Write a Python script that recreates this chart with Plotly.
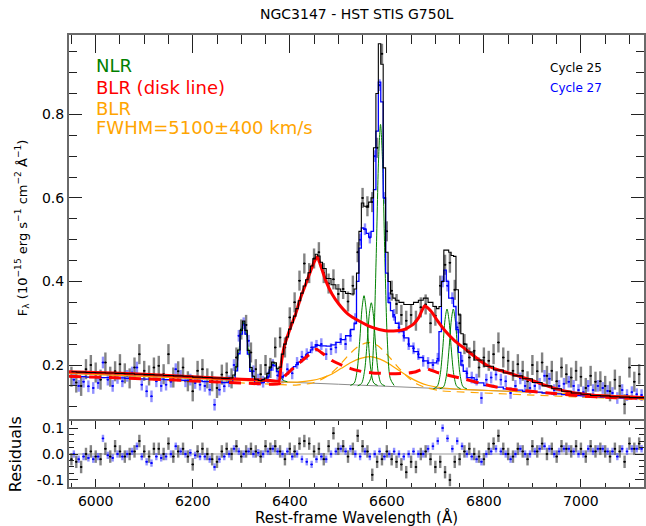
import plotly.graph_objects as go

# ---------------- data ----------------
# Cycle 25 binned spectrum (black) and Cycle 27 (blue), fluxes in 1e-15 units
lam25 = list(range(5950, 7121, 10))
flux25 = [0.172, 0.158, 0.150, 0.190, 0.200, 0.182, 0.165, 0.206, 0.172, 0.185,
          0.202, 0.180, 0.168, 0.194, 0.226, 0.186, 0.175, 0.194, 0.198, 0.178,
          0.226, 0.170, 0.185, 0.194, 0.161, 0.137, 0.186, 0.190, 0.168, 0.161,
          0.145, 0.177, 0.182, 0.168, 0.218, 0.285, 0.296, 0.230, 0.190, 0.178,
          0.200, 0.193, 0.242, 0.266, 0.242, 0.314, 0.350, 0.402, 0.443, 0.420,
          0.455, 0.470, 0.420, 0.395, 0.405, 0.370, 0.382, 0.352, 0.390, 0.470,
          0.600, 0.580, 0.590, 0.720, 0.945, 0.520, 0.378, 0.346, 0.320, 0.306,
          0.320, 0.306, 0.338, 0.345, 0.300, 0.318, 0.390, 0.440, 0.445, 0.380,
          0.300, 0.250, 0.218, 0.234, 0.194, 0.218, 0.210, 0.226, 0.254, 0.218,
          0.210, 0.186, 0.202, 0.186, 0.161, 0.200, 0.185, 0.206, 0.174, 0.186,
          0.161, 0.194, 0.178, 0.170, 0.186, 0.172, 0.145, 0.174, 0.160, 0.161,
          0.150, 0.137, 0.165, 0.150, 0.106, 0.194, 0.160, 0.178]
res25 = [-0.02, -0.03, -0.05, 0.00, 0.01, -0.01, -0.02, 0.02, -0.01, 0.03,
         0.01, -0.01, 0.00, 0.01, 0.05, 0.01, -0.01, 0.02, 0.02, 0.00,
         0.04, -0.01, 0.01, 0.02, -0.01, -0.04, 0.01, 0.02, 0.00, -0.02,
         -0.03, 0.01, 0.02, 0.00, 0.03, -0.01, 0.01, 0.02, 0.01, -0.01,
         0.03, 0.02, 0.03, 0.01, -0.02, 0.02, 0.01, 0.04, 0.05, 0.04,
         0.01, 0.02, -0.02, 0.03, 0.08, 0.02, 0.03, -0.01, 0.02, 0.07,
         0.03, 0.01, -0.08, -0.03, -0.02, 0.01, -0.02, -0.03, -0.04, -0.07,
         -0.03, -0.05, 0.00, 0.01, -0.02, -0.05, -0.03, -0.07, -0.10, -0.03,
         -0.02, 0.01, 0.02, 0.00, -0.01, -0.02, 0.02, 0.04, 0.07, 0.02,
         0.00, -0.01, 0.02, 0.01, -0.02, 0.03, 0.01, 0.04, 0.00, 0.02,
         -0.01, 0.03, 0.02, 0.01, 0.03, 0.02, -0.01, 0.03, 0.01, 0.02,
         0.01, -0.01, 0.02, 0.01, -0.03, 0.04, 0.02, 0.04]

lam27 = list(range(5955, 7126, 10))
flux27 = [0.165, 0.150, 0.160, 0.149, 0.145, 0.157, 0.206, 0.165, 0.150, 0.169,
          0.161, 0.174, 0.182, 0.194, 0.153, 0.137, 0.125, 0.161, 0.150, 0.153,
          0.160, 0.190, 0.174, 0.161, 0.165, 0.157, 0.153, 0.150, 0.141, 0.105,
          0.141, 0.149, 0.161, 0.200, 0.270, 0.300, 0.258, 0.185, 0.165, 0.160,
          0.170, 0.200, 0.175, 0.170, 0.190, 0.180, 0.205, 0.220, 0.226, 0.242,
          0.246, 0.250, 0.226, 0.238, 0.242, 0.262, 0.250, 0.270, 0.310, 0.500,
          0.525, 0.505, 0.700, 0.870, 0.600, 0.360, 0.320, 0.290, 0.270, 0.250,
          0.240, 0.226, 0.210, 0.205, 0.200, 0.215, 0.400, 0.390, 0.360, 0.290,
          0.210, 0.180, 0.170, 0.165, 0.121, 0.165, 0.170, 0.177, 0.165, 0.161,
          0.133, 0.150, 0.168, 0.150, 0.145, 0.150, 0.155, 0.174, 0.167, 0.140,
          0.150, 0.155, 0.160, 0.150, 0.140, 0.135, 0.150, 0.140, 0.150, 0.145,
          0.138, 0.133, 0.121, 0.140, 0.128, 0.135, 0.130, 0.128]
res27 = [0.000, -0.020, -0.010, -0.015, -0.020, -0.010, 0.060, -0.005, -0.015, 0.000,
         -0.010, 0.000, 0.010, 0.030, -0.010, -0.030, -0.035, -0.010, -0.015, -0.010,
         0.000, 0.030, 0.010, 0.000, 0.005, -0.005, -0.010, -0.010, -0.020, -0.050,
         -0.020, -0.010, 0.000, 0.020, 0.010, 0.000, 0.010, 0.000, 0.005, 0.000,
         0.010, 0.020, 0.010, 0.000, 0.010, -0.010, 0.000, -0.020, -0.030, -0.040,
         -0.020, -0.010, -0.020, 0.000, 0.010, 0.020, 0.010, 0.020, 0.000, -0.010,
         0.010, -0.010, 0.000, 0.010, -0.010, 0.000, 0.010, 0.000, -0.010, 0.000,
         0.010, 0.000, 0.000, 0.020, 0.030, 0.050, 0.100, 0.060, 0.020, 0.050,
         0.030, 0.000, -0.010, -0.020, -0.030, 0.000, 0.010, 0.020, 0.010, 0.000,
         -0.020, 0.000, 0.020, 0.000, 0.000, 0.010, 0.020, 0.030, 0.020, 0.000,
         0.010, 0.020, 0.020, 0.010, 0.000, 0.000, 0.020, 0.010, 0.020, 0.020,
         0.010, 0.010, -0.010, 0.020, 0.010, 0.020, 0.020, 0.020]

err25 = 0.024      # typical 1-sigma flux error, Cycle 25
err27 = 0.014      # typical 1-sigma flux error, Cycle 27
half_bin = 2.5     # half bin width (Å)

# total models (step lines)
model_wave = ([5950, 5970, 5990, 6010, 6030, 6050, 6070, 6090, 6110, 6130, 6150, 6170,
               6190, 6210, 6230, 6250, 6270]
              + [6280, 6285, 6290, 6295, 6300, 6305, 6310, 6315, 6320, 6325, 6330]
              + [6340, 6345, 6350, 6355, 6360, 6365, 6370, 6375, 6380, 6385, 6390, 6395,
                 6400, 6405, 6410, 6415, 6420, 6425, 6430, 6435, 6440, 6445, 6450, 6455,
                 6460, 6465, 6470]
              + [6480, 6490, 6500, 6510, 6520, 6530]
              + [6535, 6540, 6545, 6550, 6555, 6560, 6565, 6570, 6575, 6580, 6585, 6590,
                 6595, 6600, 6605, 6610, 6615, 6620]
              + [6630, 6640, 6650, 6660, 6670, 6680, 6690, 6700]
              + [6705, 6710, 6715, 6720, 6725, 6730, 6735, 6740, 6745, 6750, 6755, 6760]
              + [6770, 6790, 6810, 6830, 6850, 6870, 6890, 6910, 6930, 6950, 6970, 6990,
                 7010, 7030, 7050, 7070, 7090, 7110, 7130])
model25 = ([0.184, 0.183, 0.182, 0.1815, 0.181, 0.180, 0.179, 0.178, 0.177, 0.176, 0.175,
            0.174, 0.173, 0.171, 0.170, 0.169, 0.168]
           + [0.169, 0.176, 0.196, 0.236, 0.283, 0.305, 0.283, 0.235, 0.194, 0.173, 0.166]
           + [0.163, 0.165, 0.169, 0.180, 0.195, 0.207, 0.205, 0.191, 0.195, 0.226, 0.250,
              0.267, 0.286, 0.301, 0.317, 0.335, 0.354, 0.372, 0.389, 0.404, 0.421, 0.437,
              0.454, 0.465, 0.461, 0.446, 0.431]
           + [0.407, 0.392, 0.382, 0.376, 0.371, 0.370]
           + [0.382, 0.420, 0.520, 0.588, 0.580, 0.578, 0.590, 0.600, 0.720, 0.850, 0.969,
              0.920, 0.672, 0.470, 0.400, 0.370, 0.360, 0.355]
           + [0.350, 0.345, 0.345, 0.350, 0.355, 0.360, 0.350, 0.340]
           + [0.335, 0.340, 0.400, 0.475, 0.475, 0.470, 0.462, 0.460, 0.380, 0.320, 0.275, 0.250]
           + [0.231, 0.212, 0.197, 0.188, 0.181, 0.174, 0.167, 0.158, 0.150, 0.143, 0.137,
              0.133, 0.130, 0.127, 0.126, 0.124, 0.123, 0.122, 0.122])
model27 = ([0.173, 0.172, 0.171, 0.170, 0.170, 0.169, 0.168, 0.167, 0.166, 0.166, 0.165,
            0.164, 0.163, 0.162, 0.160, 0.159, 0.158]
           + [0.159, 0.166, 0.186, 0.227, 0.274, 0.296, 0.274, 0.226, 0.185, 0.165, 0.158]
           + [0.157, 0.158, 0.162, 0.173, 0.188, 0.200, 0.198, 0.184, 0.173, 0.173, 0.175,
              0.179, 0.186, 0.190, 0.196, 0.201, 0.207, 0.213, 0.218, 0.224, 0.230, 0.236,
              0.243, 0.249, 0.247, 0.246, 0.246]
           + [0.245, 0.248, 0.254, 0.261, 0.270, 0.285]
           + [0.300, 0.400, 0.480, 0.528, 0.525, 0.515, 0.506, 0.520, 0.620, 0.760, 0.877,
              0.830, 0.600, 0.420, 0.350, 0.330, 0.315, 0.300]
           + [0.280, 0.265, 0.245, 0.232, 0.218, 0.210, 0.205, 0.205]
           + [0.210, 0.280, 0.400, 0.427, 0.400, 0.360, 0.360, 0.340, 0.285, 0.230, 0.200, 0.185]
           + [0.170, 0.157, 0.151, 0.147, 0.143, 0.140, 0.137, 0.135, 0.133, 0.131, 0.129,
              0.127, 0.126, 0.124, 0.123, 0.122, 0.121, 0.120, 0.120])

# continuum (grey)
cont_wave = [5945, 6100, 6300, 6500, 6700, 6900, 7130]
cont_flux = [0.180, 0.173, 0.163, 0.154, 0.144, 0.135, 0.124]

# BLR disk line + continuum: Cycle 25 (solid red), Cycle 27 (dashed red)
disk25_wave = [5945, 6000, 6100, 6200, 6300, 6360, 6378, 6382, 6388, 6400, 6412, 6422,
               6433, 6443, 6450, 6457, 6463, 6474, 6487, 6501, 6520, 6542, 6570, 6597,
               6620, 6638, 6655, 6666, 6673, 6678, 6685, 6693, 6705, 6720, 6740, 6762,
               6790, 6810, 6830, 6851, 6892, 6933, 6974, 7022, 7077, 7130]
disk25_flux = [0.184, 0.182, 0.178, 0.172, 0.166, 0.163, 0.162, 0.200, 0.242, 0.285, 0.322,
               0.360, 0.394, 0.425, 0.446, 0.460, 0.440, 0.402, 0.370, 0.346, 0.322, 0.306,
               0.290, 0.282, 0.282, 0.286, 0.298, 0.314, 0.332, 0.342, 0.336, 0.326, 0.305,
               0.282, 0.258, 0.238, 0.212, 0.197, 0.188, 0.181, 0.166, 0.149, 0.136, 0.128,
               0.124, 0.122]
disk27_wave = [5945, 6100, 6200, 6300, 6378, 6385, 6400, 6420, 6440, 6455, 6465, 6488,
               6510, 6529, 6550, 6570, 6611, 6640, 6660, 6679, 6690, 6707, 6735, 6762,
               6790, 6817, 6870, 6933, 7000, 7060, 7130]
disk27_flux = [0.173, 0.167, 0.162, 0.157, 0.155, 0.168, 0.185, 0.205, 0.225, 0.238, 0.230,
               0.210, 0.198, 0.190, 0.184, 0.181, 0.179, 0.180, 0.184, 0.192, 0.188, 0.181,
               0.173, 0.166, 0.157, 0.149, 0.140, 0.133, 0.126, 0.122, 0.120]

# broad Gaussian BLR component: solid (Cycle 25) and dashed (Cycle 27) orange
blr25_wave = [5945, 6100, 6300, 6366, 6416, 6446, 6466, 6486, 6506, 6526, 6546, 6566,
              6586, 6606, 6626, 6646, 6666, 6686, 6716, 6766, 6900, 7130]
blr25_flux = [0.180, 0.173, 0.163, 0.160, 0.159, 0.163, 0.169, 0.178, 0.192, 0.206, 0.216,
              0.220, 0.214, 0.202, 0.186, 0.171, 0.159, 0.151, 0.145, 0.141, 0.135, 0.124]
blr27_wave = [5945, 6100, 6300, 6383, 6413, 6443, 6463, 6483, 6503, 6523, 6543, 6563,
              6583, 6603, 6623, 6643, 6663, 6683, 6713, 6743, 6900, 7130]
blr27_flux = [0.173, 0.166, 0.157, 0.153, 0.152, 0.156, 0.164, 0.178, 0.200, 0.226, 0.246,
              0.254, 0.245, 0.222, 0.195, 0.171, 0.154, 0.145, 0.138, 0.136, 0.128, 0.117]

# narrow lines (green)
oi6300_wave = [6277, 6285, 6291, 6296, 6301, 6305, 6309, 6314, 6319, 6325, 6333]
oi6300_flux = [0.164, 0.172, 0.199, 0.242, 0.287, 0.302, 0.287, 0.242, 0.199, 0.172, 0.164]
oi6364_wave = [6339, 6347, 6353, 6358, 6363, 6367, 6371, 6376, 6381, 6387, 6395]
oi6364_flux = [0.160, 0.163, 0.172, 0.186, 0.200, 0.205, 0.200, 0.186, 0.172, 0.163, 0.160]
nii6548_wave = [6525, 6533, 6539, 6544, 6549, 6553, 6557, 6562, 6567, 6573, 6581]
nii6548_flux = [0.151, 0.157, 0.189, 0.256, 0.337, 0.366, 0.337, 0.256, 0.189, 0.157, 0.151]
ha_wave = [6540, 6548, 6554, 6559, 6564, 6568, 6572, 6577, 6582, 6588, 6596]
ha_flux = [0.150, 0.156, 0.185, 0.247, 0.323, 0.349, 0.323, 0.247, 0.185, 0.156, 0.150]
nii6583_wave = [6559, 6567, 6573, 6578, 6583, 6587, 6591, 6596, 6601, 6607, 6615]
nii6583_flux = [0.151, 0.168, 0.260, 0.455, 0.693, 0.776, 0.693, 0.455, 0.260, 0.168, 0.151]
sii6716_wave = [6696, 6704, 6710, 6715, 6720, 6724, 6728, 6733, 6738, 6744, 6752]
sii6716_flux = [0.143, 0.149, 0.177, 0.236, 0.309, 0.334, 0.309, 0.236, 0.177, 0.149, 0.143]
sii6731_wave = [6709, 6717, 6723, 6728, 6733, 6737, 6741, 6746, 6751, 6757, 6765]
sii6731_flux = [0.143, 0.148, 0.176, 0.236, 0.308, 0.334, 0.308, 0.236, 0.176, 0.148, 0.143]

x_range = [5945, 7130]
y_range = [0.0707, 0.990]
r_range = [-0.127, 0.127]

# ---------------- figure ----------------
FONT = "DejaVu Sans"
fig = go.Figure()

def add_data(x, y, err, mcol, ecol, xa, ya):
    fig.add_trace(go.Scatter(
        x=x, y=y, mode="markers", xaxis=xa, yaxis=ya,
        marker=dict(size=2, color=mcol),
        error_y=dict(type="constant", value=err, color=ecol, thickness=2.4, width=0),
        error_x=dict(type="constant", value=half_bin, color=mcol, thickness=1.2, width=0),
        showlegend=False, hoverinfo="skip"))

# main panel data
add_data(lam25, flux25, err25, "black", "rgba(90,90,90,0.75)", "x", "y")
add_data(lam27, flux27, err27, "blue", "rgba(70,70,255,0.6)", "x", "y")

# continuum and components
fig.add_trace(go.Scatter(x=cont_wave, y=cont_flux, mode="lines", xaxis="x", yaxis="y",
                         line=dict(color="#8c8c8c", width=1), showlegend=False))
fig.add_trace(go.Scatter(x=blr25_wave, y=blr25_flux, mode="lines", xaxis="x", yaxis="y",
                         line=dict(color="orange", width=1.2, shape="spline", smoothing=0.6),
                         showlegend=False))
fig.add_trace(go.Scatter(x=blr27_wave, y=blr27_flux, mode="lines", xaxis="x", yaxis="y",
                         line=dict(color="orange", width=1.2, dash="8px,6px", shape="spline",
                                   smoothing=0.6), showlegend=False))

nlr = [(oi6300_wave, oi6300_flux), (oi6364_wave, oi6364_flux), (nii6548_wave, nii6548_flux),
       (ha_wave, ha_flux), (nii6583_wave, nii6583_flux), (sii6716_wave, sii6716_flux),
       (sii6731_wave, sii6731_flux)]
for w, f in nlr:
    fig.add_trace(go.Scatter(x=w, y=f, mode="lines", xaxis="x", yaxis="y",
                             line=dict(color="green", width=1, shape="spline", smoothing=0.8),
                             showlegend=False))

# Cycle 27 total model (blue steps)
fig.add_trace(go.Scatter(x=model_wave, y=model27, mode="lines", xaxis="x", yaxis="y",
                         line=dict(color="blue", width=1.3, shape="hvh"), showlegend=False))

# disk lines
fig.add_trace(go.Scatter(x=disk27_wave, y=disk27_flux, mode="lines", xaxis="x", yaxis="y",
                         line=dict(color="red", width=3, dash="12px,8px", shape="spline",
                                   smoothing=0.4), showlegend=False))
fig.add_trace(go.Scatter(x=disk25_wave, y=disk25_flux, mode="lines", xaxis="x", yaxis="y",
                         line=dict(color="red", width=3, shape="spline", smoothing=0.4),
                         showlegend=False))

# Cycle 25 total model (black steps)
fig.add_trace(go.Scatter(x=model_wave, y=model25, mode="lines", xaxis="x", yaxis="y",
                         line=dict(color="black", width=1.1, shape="hvh"), showlegend=False))

# residual panel
fig.add_trace(go.Scatter(x=x_range, y=[0, 0], mode="lines", xaxis="x2", yaxis="y2",
                         line=dict(color="#9a9a9a", width=1.2), showlegend=False))
add_data(lam25, res25, err25, "black", "rgba(90,90,90,0.75)", "x2", "y2")
add_data(lam27, res27, err27, "blue", "rgba(70,70,255,0.6)", "x2", "y2")

axcol = "#6a6a6a"
tickcol = "#222222"
fig.update_layout(
    width=646, height=526,
    margin=dict(l=69, r=0, t=35, b=39),
    paper_bgcolor="white", plot_bgcolor="white",
    font=dict(family=FONT, size=14, color="black"),
    hovermode=False,
    xaxis=dict(domain=[0, 1], range=x_range, anchor="y", side="top",
               showticklabels=False, ticks="inside", ticklen=18, tickwidth=1,
               tickcolor=tickcol, tick0=6000, dtick=200,
               minor=dict(ticks="inside", ticklen=9, dtick=50, tick0=6000, tickcolor=tickcol),
               showline=True, linecolor=axcol, linewidth=2, mirror=True,
               showgrid=False, zeroline=False),
    yaxis=dict(domain=[0.1504, 1], range=y_range, anchor="x",
               ticks="inside", ticklen=13, tickwidth=1, tickcolor=tickcol,
               tickvals=[0.2, 0.4, 0.6, 0.8], ticktext=["0.2", "0.4", "0.6", "0.8"],
               minor=dict(ticks="inside", ticklen=8, tickvals=[0.1, 0.15, 0.25, 0.3, 0.35, 0.45,
                                                                0.5, 0.55, 0.65, 0.7, 0.75, 0.85,
                                                                0.9, 0.95],
                          tickcolor=tickcol),
               showline=True, linecolor=axcol, linewidth=2, mirror="allticks",
               showgrid=False, zeroline=False, tickfont=dict(size=14)),
    xaxis2=dict(domain=[0, 1], range=x_range, anchor="y2",
                ticks="inside", ticklen=8, tickwidth=1, tickcolor=tickcol,
                tick0=6000, dtick=200,
                minor=dict(ticks="inside", ticklen=4, dtick=50, tick0=6000, tickcolor=tickcol),
                showline=True, linecolor=axcol, linewidth=2, mirror="allticks",
                showgrid=False, zeroline=False, tickfont=dict(size=14)),
    yaxis2=dict(domain=[0, 0.146], range=r_range, anchor="x2",
                ticks="inside", ticklen=9, tickwidth=1, tickcolor=tickcol,
                tickvals=[-0.1, 0.0, 0.1], ticktext=["-0.1", "0.0", "0.1"],
                minor=dict(ticks="inside", ticklen=5,
                           tickvals=[-0.125, -0.075, -0.05, -0.025, 0.025, 0.05, 0.075, 0.125],
                           tickcolor=tickcol),
                showline=True, linecolor=axcol, linewidth=2, mirror="allticks",
                showgrid=False, zeroline=False, tickfont=dict(size=14)),
)

ann = []
ann.append(dict(text="NGC3147 - HST STIS G750L", xref="paper", yref="paper",
                x=0.5, y=1.0465, xanchor="center", yanchor="middle", showarrow=False,
                font=dict(size=14, color="black", family=FONT)))
ann.append(dict(text="Rest-frame Wavelength (Å)", xref="paper", yref="paper",
                x=0.5, y=-0.0675, xanchor="center", yanchor="middle", showarrow=False,
                font=dict(size=15, color="black", family=FONT)))
ann.append(dict(text="F<sub>λ</sub> (10<sup>−15</sup> erg s<sup>−1</sup> cm<sup>−2</sup> Å<sup>−1</sup>)",
                xref="paper", yref="paper", x=-0.0815, y=0.573, xanchor="center",
                yanchor="middle", textangle=-90, showarrow=False,
                font=dict(size=13, color="black", family=FONT)))
ann.append(dict(text="Residuals", xref="paper", yref="paper", x=-0.0936, y=0.073,
                xanchor="center", yanchor="middle", textangle=-90, showarrow=False,
                font=dict(size=16, color="black", family=FONT)))
labels = [("NLR", 0.916, "green"), ("BLR (disk line)", 0.865, "red"),
          ("BLR", 0.814, "orange"), ("FWHM=5100±400 km/s", 0.769, "orange")]
for t, yv, c in labels:
    ann.append(dict(text=t, xref="x", yref="y", x=5996, y=yv, xanchor="left",
                    yanchor="middle", showarrow=False, font=dict(size=18, color=c, family=FONT)))
ann.append(dict(text="Cycle 25", xref="x", yref="y", x=6989, y=0.911, xanchor="center",
                yanchor="middle", showarrow=False, font=dict(size=12, color="black", family=FONT)))
ann.append(dict(text="Cycle 27", xref="x", yref="y", x=6989, y=0.862, xanchor="center",
                yanchor="middle", showarrow=False, font=dict(size=12, color="blue", family=FONT)))
fig.update_layout(annotations=ann)

fig.write_html("out.html")
